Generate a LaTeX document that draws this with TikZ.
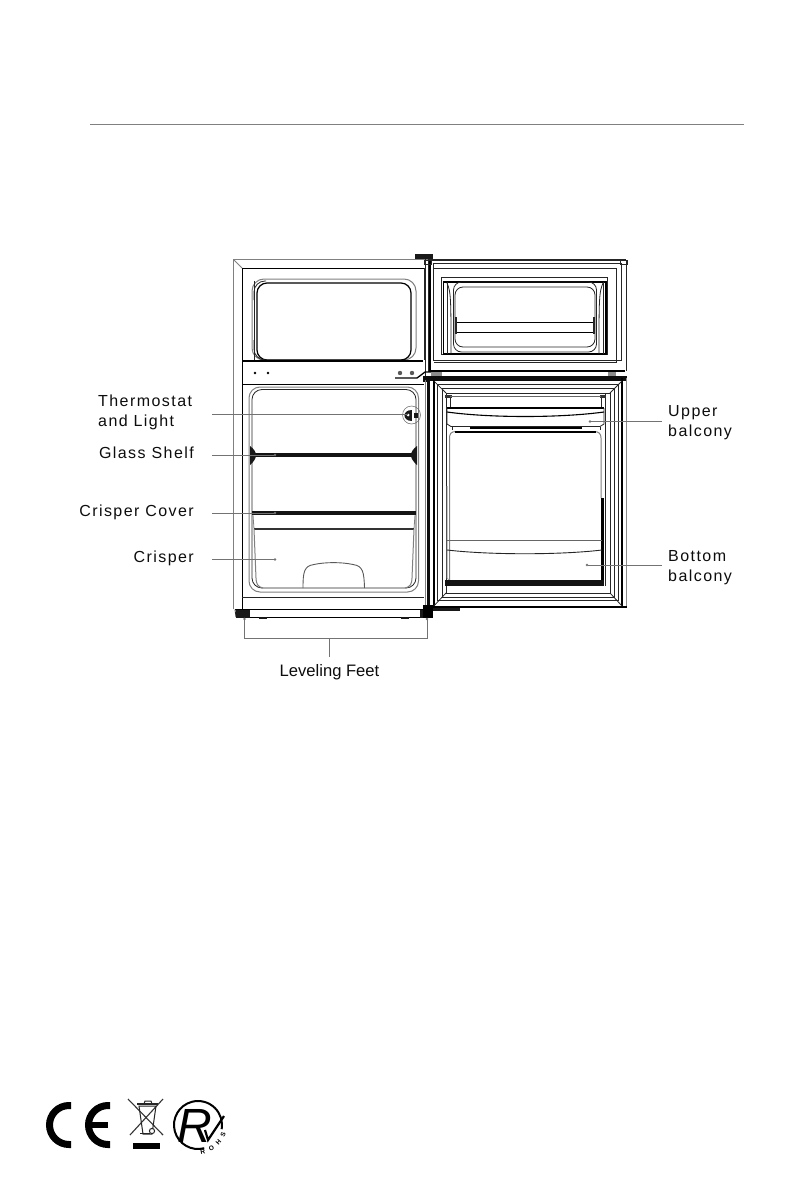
\documentclass[tikz,border=0pt]{standalone}
\usepackage{fontspec}
\setmainfont{Liberation Sans}
\newfontfamily\spaced[LetterSpace=9]{Liberation Sans}
\usetikzlibrary{calc}
\tikzset{
  thinl/.style={line width=0.8pt,black!85},
  thick1/.style={line width=1.3pt,black},
  heavy/.style={line width=3.5pt,black!92},
  grayl/.style={line width=1pt,black!50},
  lead/.style={line width=0.8pt,black!55},
  lab/.style={font=\spaced\fontsize{16}{19.5}\selectfont,inner sep=0pt,text=black!95},
  labl/.style={lab,anchor=west,align=left},
  labr/.style={lab,anchor=east,align=right},
  tip/.style={circle,fill=black!55,inner sep=0.9pt}
}
\begin{document}
\begin{tikzpicture}[x=1pt,y=-1pt]
\useasboundingbox (0,0) rectangle (794,1190);
\fill[white] (0,0) rectangle (794,1190);
% top rule
\coordinate (ruleA) at (90,124); \coordinate (ruleB) at (744,124);
\draw[line width=0.8pt,black!50] (ruleA) -- (ruleB);

% ---------- cabinet ----------
\draw[grayl] (233.5,609) -- (233.5,259.5) -- (428,259.5);
\draw[grayl] (233.5,259.5) -- (242,268);
\draw[thick1,line width=1pt] (242,609) -- (242,268) -- (424,268);
\draw[thinl] (424,268) -- (424,360);
% top hinge
\fill[black!90] (415,254) rectangle (433,258.5);
\draw[thinl] (425,259) -- (425,378);
\draw[thinl] (428,259) -- (428,372);
% freezer liner
\draw[grayl,rounded corners=12pt] (252,279) rectangle (416,360);
\draw[line width=1.2pt,black,rounded corners=10pt] (257,283) rectangle (411,360);
\draw[thinl,rounded corners=11pt] (254,281) -- (254,360);
\draw[thinl,rounded corners=11pt] (266,281) -- (254,281) -- (254,300);
\draw[thinl,rounded corners=11pt] (254,340) -- (254,360) -- (266,360);
% control band
\draw[thick1] (242,361) -- (423,361);
\draw[thick1] (242,384.5) -- (424,384.5);
\fill[black] (255,373) circle (1.4) (268,373) circle (1.4);
\fill[black!65] (400,373) circle (2.2) (412,373) circle (2.2);
\draw[thick1] (395,378) -- (417,378) -- (425,372) -- (435,372);
% fridge liner
\draw[grayl,rounded corners=11pt] (249,387) rectangle (418.5,592);
\draw[thinl,rounded corners=10pt] (252,389.5) rectangle (416,588);
% thermostat
\draw[line width=0.5pt,black!60] (411.5,415) circle (9);
\fill[black!90] (412,409.5) -- (412,420.5) .. controls (402,420.5) and (402,409.5) .. (412,409.5) -- cycle;
\fill[black!90] (413.5,413) rectangle (418,418);
\fill[white] (408,415) circle (1.5);
% shelf
\draw[heavy] (250,455) -- (416,455);
\fill[black!90] (250,446) .. controls (258,452) and (258,458) .. (250,465) -- cycle;
\fill[black!90] (417,446) .. controls (409,452) and (409,458) .. (417,465) -- cycle;
% crisper cover
\draw[heavy] (252,513) -- (416,513);
\draw[thinl,black!50] (253,515) -- (254,529);
\draw[thinl,black!50] (415,515) -- (414,529);
% crisper
\draw[line width=1.5pt,black!80] (254,528.8) -- (414,528.8);
\draw[grayl] (254,529) -- (256,578) .. controls (256,584) and (258,587) .. (263,588);
\draw[grayl] (414,529) -- (412,578) .. controls (412,584) and (410,587) .. (405,588);
\draw[line width=0.9pt,black!65] (303,588) .. controls (303,572) and (304,566) .. (314,564.5) .. controls (325,562) and (342,562) .. (353,564.5) .. controls (363,566) and (364,572) .. (364.5,588);
% base
\draw[thinl] (242,597) -- (424,597);
\draw[thick1] (235,609.5) -- (424,609.5);
\draw[thinl] (235,609.5) -- (236,617);
\draw[thick1] (249,617.5) -- (420,617.5);
\fill[black!90] (236,610) rectangle (249.5,618);
\fill[black!90] (420,610) rectangle (433,618);
\fill[black!90] (259,617) rectangle (267,618.5);
\fill[black!90] (401,617) rectangle (409,618.5);

% ---------- freezer door ----------
\draw[line width=2pt,black!85] (429,260) -- (626,260);
\draw[thick1] (430,260) -- (430,371) -- (625,371);
\draw[thinl] (626,260) -- (626,371);
\draw[thinl] (433,263) -- (621,263) -- (621,360) -- (433,360) -- cycle;
\draw[thinl] (434,268) -- (616,268) -- (616,363);
\draw[thinl] (434,362.5) -- (616,362.5);
\draw[thinl] (441.5,277) rectangle (607.5,354.5);
\draw[thick1] (443.5,282) rectangle (606,354);
\draw[thinl] (447,282) -- (447,354);
\draw[thinl] (603,282) -- (603,354);
% bin
\draw[thinl,rounded corners=8pt] (455,287) rectangle (595,347);
\draw[thinl,rounded corners=8pt] (453.5,282) rectangle (596.5,352);
\draw[thinl] (447,283) .. controls (451,292) and (451,300) .. (451,354);
\draw[thinl] (603,283) .. controls (599,292) and (599,300) .. (599,354);
\draw[line width=1pt,black] (456,322) -- (594,322);
\draw[line width=1pt,black] (456,332.5) -- (594,332.5);
\draw[thinl,line width=1.2pt] (456,317) -- (456,334) (594,317) -- (594,334);
% hinge blocks
\fill[black!45] (431,372) rectangle (442,375.5);
\fill[black!45] (608,372) rectangle (616,375.5);
\draw[thinl] (424,260) rectangle (431,264);
\draw[thinl] (620,260) rectangle (627,264);

% ---------- fridge door ----------
\fill[black!95] (423,376) rectangle (627,380.5);
\fill[black!95] (423,376) rectangle (430,382);
\fill[black!95] (427,380) rectangle (429.6,606);
\draw[thinl,black!50] (425,380) -- (425,606);
\fill[black] (423,605) rectangle (433,618);
\fill[black!90] (433,606) rectangle (460,611);
\draw[line width=2.4pt,black] (425,606.8) -- (627,606.8);
\draw[line width=2.2pt,black] (433.8,380) -- (433.8,606);
\draw[line width=1.8pt,black] (622,378) -- (622,606);
\draw[line width=0.8pt,black!45] (626.5,378) -- (626.5,606);
% concentric frames
\draw[thinl] (437,384) -- (618,384) -- (618,600) -- (437,600) -- cycle;
\draw[thinl] (442,388) -- (614,388) -- (614,597) -- (442,597) -- cycle;
\draw[thinl] (446,393) -- (610,393) -- (610,593) -- (446,593) -- cycle;
\draw[thinl] (433.8,381) -- (446,393);
\draw[thinl] (622,381) -- (610,393);
\draw[thinl] (433.8,606) -- (446,593);
\draw[thinl] (622,606) -- (610,593);
\draw[thinl] (605,393) -- (605,586);
% upper balcony
\fill[black!80] (445,395) rectangle (452,398);
\fill[black!80] (600,395) rectangle (606,398);
\draw[thinl,black!60] (450,396) -- (601,396);
\draw[thinl] (450,398) -- (450,408);
\draw[thinl] (601,398) -- (601,408);
\draw[line width=1.1pt,black] (447,408) -- (604,408);
\draw[thinl] (447,408) -- (447,424) -- (451,426.5) -- (600,426.5) -- (604,424) -- (604,408);
\draw[line width=1.1pt,black] (447,412) .. controls (490,418) and (560,418) .. (604,412);
\draw[line width=2.2pt,black] (470,428) -- (582,428);
\draw[thinl] (452,427) -- (452,430) (600,427) -- (600,430);
% lower compartment
\draw[grayl] (449.5,580) -- (449.5,438) .. controls (449.5,434) and (451,431.5) .. (456,431.5) -- (594,431.5) .. controls (599,431.5) and (601,434) .. (601,438) -- (601,498);
\draw[line width=2pt,black] (455,431.5) -- (596,431.5);
\draw[grayl,black!35] (447,486) -- (447,578) -- (450,581);
% bottom balcony
\draw[line width=2.6pt,black] (602.5,498) -- (602.5,583);
\draw[line width=1pt,black!60] (447,540.5) -- (602,540.5);
\draw[line width=0.9pt,black!85] (447,550) .. controls (490,555) and (560,555) .. (602,550);
\fill[black!92] (445,580) rectangle (604,586);

% ---------- leaders ----------
\node[labl] (thermo) at (98,412.5) {Thermostat\\and Light};
\node[labr] (glass) at (194,452.5) {Glass Shelf};
\node[labr] (ccover) at (194,512) {Crisper Cover};
\node[labr] (crisper) at (194,558) {Crisper};
\node[labl] (upper) at (668,422.5) {Upper\\balcony};
\node[labl] (bottom) at (668,567.5) {Bottom\\balcony};
\node[inner sep=0pt,font=\fontsize{16.6}{20}\selectfont,text=black!95] (feet) at (329.5,672) {Leveling Feet};

\coordinate (tS) at (212,414); \coordinate (tE) at (408,414);
\coordinate (gS) at (212,455); \node[tip] (gE) at (275,455) {};
\coordinate (cS) at (212,513); \node[tip] (cE) at (275,513) {};
\coordinate (rS) at (212,559.5); \node[tip] (rE) at (275,559.5) {};
\coordinate (uS) at (662,421.5); \node[tip] (uE) at (590,421.5) {};
\coordinate (bS) at (662,565); \node[tip] (bE) at (587,565) {};
\draw[lead] (tS) -- (tE);
\draw[lead] (gS) -- (gE);
\draw[lead] (cS) -- (cE);
\draw[lead] (rS) -- (rE);
\draw[lead] (uS) -- (uE);
\draw[lead] (bS) -- (bE);
% feet bracket
\node[tip] (fL) at (244.5,619) {};
\node[tip] (fR) at (427,619) {};
\coordinate (fM) at (329.5,638.5); \coordinate (fB) at (329.5,657);
\draw[lead] (fL) |- (fM) -| (fR);
\draw[lead] (fM) -- (fB);

% ---------- logos ----------
\draw[line width=7pt,black] (71,1105.5) -- (69,1105.5) arc[start angle=270,end angle=90,radius=19.5] -- (71,1144.5);
\draw[line width=7pt,black] (110,1105.5) -- (108,1105.5) arc[start angle=270,end angle=90,radius=19.5] -- (110,1144.5);
\draw[line width=6pt,black] (90,1125) -- (108,1125);
% bin
\draw[line width=1.1pt,black!80] (128,1099) -- (163,1135);
\draw[line width=1.1pt,black!80] (163,1099) -- (130,1135);
\draw[line width=1pt,black!85] (139,1106) -- (156,1106) -- (152,1134) -- (143,1134) -- cycle;
\draw[line width=1.4pt,black!85] (137,1104) -- (158,1104);
\draw[line width=1pt,black!85] (144,1104) -- (145,1101) -- (151,1101) -- (152,1104);
\fill[white] (152,1131) circle (2.6);
\draw[line width=1pt,black!85] (152,1131) circle (2.6);
\draw[line width=1pt,black!85] (140,1133) -- (150,1133);
\fill[black] (133,1143) rectangle (160,1148.5);
% RoHS mark
\draw[line width=2pt,black] (198,1125) ++(75:24) arc[start angle=75,end angle=370,radius=24];
\node[inner sep=0pt,font=\itshape\fontsize{48}{48}\selectfont] (rmark) at (195,1125.5) {R};
\draw[line width=2.2pt,black] (205,1130) -- (208,1140) -- (224,1116);
\foreach \nm/\ch/\ang in {a/R/80, b/O/60, c/H/41, d/S/22}{
  \pgfmathsetmacro{\rr}{90-\ang}
  \node[inner sep=0pt,font=\bfseries\fontsize{6.5}{6.5}\selectfont,rotate=\rr] (rohs\nm) at ($(198,1125)+(\ang:27)$) {\ch};
}
\end{tikzpicture}
\end{document}
